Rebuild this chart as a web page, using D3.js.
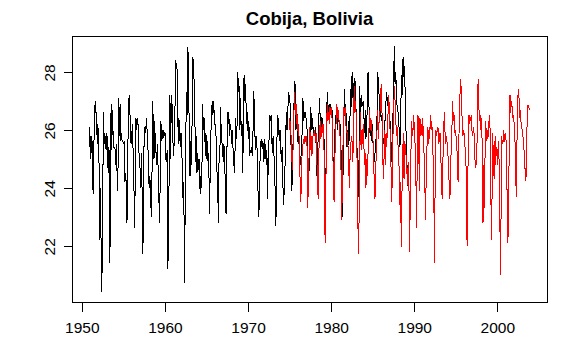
<!DOCTYPE html>
<html>
<head>
<meta charset="utf-8">
<script src="https://cdn.jsdelivr.net/npm/d3@7"></script>
<style>
  html, body { margin: 0; padding: 0; background: #fff; }
  svg text { font-family: "Liberation Sans", Arial, Helvetica, sans-serif; }
</style>
</head>
<body>
<svg id="chart" width="565" height="356"></svg>
<script>
// ---- data (monthly mean temperature) ----
const title = "Cobija, Bolivia";
const blackStartYear = 1951;   // first month: Jan 1951
const redStartYear = 1975;     // first month: Jan 1975

const blackSeries = [
  26.1, 25.0, 25.8, 25.2, 25.6, 23.8, 25.3, 26.2, 27.0, 26.6, 26.6, 25.5, // 1951
  26.2, 25.4, 24.5, 22.2, 24.0, 20.4, 21.1, 23.7, 26.6, 25.5, 25.9, 25.4, // 1952
  25.3, 25.9, 25.0, 24.5, 25.4, 21.4, 22.5, 26.9, 25.3, 26.7, 25.8, 25.4, // 1953
  25.4, 25.3, 24.8, 25.5, 23.9, 24.6, 27.1, 25.8, 26.9, 25.6, 25.9, 25.6, // 1954
  25.6, 25.5, 25.6, 24.2, 24.5, 24.1, 22.8, 25.3, 26.1, 27.2, 27.0, 25.7, // 1955
  25.5, 25.9, 26.2, 25.0, 24.1, 22.6, 24.5, 26.4, 26.0, 26.4, 26.2, 25.3, // 1956
  25.0, 24.6, 24.0, 25.2, 23.5, 21.7, 24.8, 25.9, 26.1, 25.9, 26.4, 26.0, // 1957
  25.7, 24.6, 24.0, 24.4, 23.9, 23.0, 24.2, 27.0, 26.2, 25.0, 26.3, 25.4, // 1958
  25.2, 24.8, 25.5, 24.6, 23.7, 22.8, 24.3, 26.3, 25.6, 26.0, 25.7, 26.0, // 1959
  25.8, 25.9, 25.0, 24.9, 25.3, 21.2, 22.4, 24.9, 27.2, 25.0, 27.2, 26.9, // 1960
  25.9, 25.1, 25.5, 26.0, 28.4, 28.1, 28.3, 27.3, 25.5, 26.4, 25.9, 25.4, // 1961
  25.9, 25.4, 24.6, 23.5, 24.2, 20.7, 23.3, 26.0, 27.3, 26.5, 28.85, 27.0, // 1962
  26.2, 24.4, 25.6, 24.8, 26.3, 28.5, 28.3, 27.6, 26.4, 24.9, 25.8, 24.5, // 1963
  25.2, 24.6, 25.0, 24.1, 23.8, 24.5, 24.0, 26.9, 26.3, 26.0, 26.4, 25.1, // 1964
  25.9, 25.0, 25.6, 24.9, 25.2, 23.1, 24.3, 25.8, 26.4, 27.0, 26.5, 27.0, // 1965
  26.5, 26.2, 26.0, 25.6, 24.5, 24.0, 22.8, 25.2, 24.9, 26.8, 26.0, 25.6, // 1966
  25.4, 24.9, 25.5, 24.8, 24.2, 23.1, 24.6, 26.6, 26.2, 26.6, 25.8, 26.2, // 1967
  26.1, 25.5, 26.0, 25.4, 25.0, 24.5, 25.3, 26.4, 25.7, 26.2, 28.0, 27.3, // 1968
  27.5, 26.0, 27.1, 25.8, 26.3, 24.5, 25.9, 27.9, 27.0, 27.6, 26.8, 26.2, // 1969
  26.6, 25.7, 26.3, 25.1, 25.3, 25.2, 25.4, 25.1, 26.0, 27.35, 26.6, 25.6, // 1970
  25.3, 25.8, 25.2, 24.1, 23.0, 23.4, 24.9, 25.5, 25.7, 25.4, 25.6, 24.9, // 1971
  25.7, 25.0, 25.5, 24.8, 25.3, 23.6, 25.0, 25.6, 26.5, 26.3, 26.5, 25.7, // 1972
  25.2, 25.8, 25.4, 24.2, 24.0, 22.7, 24.6, 26.5, 25.8, 26.4, 25.6, 26.0, // 1973
  25.3, 24.9, 25.4, 24.2, 23.4, 23.9, 24.6, 25.5, 26.6, 26.0, 26.4, 27.3, // 1974
  27.0, 27.2, 26.5, 25.2, 23.9, 24.7, 25.9, 26.8, 27.7, 27.5, 26.0, 26.6, // 1975
  26.5, 25.5, 26.2, 25.0, 24.8, 25.0, 25.4, 26.0, 27.1, 26.3, 26.6, 26.4, // 1976
  26.6, 26.2, 26.0, 25.0, 23.7, 24.8, 25.6, 26.8, 26.5, 26.0, 26.4, 25.9, // 1977
  26.0, 25.9, 26.1, 25.5, 24.4, 24.8, 25.8, 26.4, 27.1, 26.3, 26.5, 25.9, // 1978
  26.4, 25.9, 26.2, 25.1, 23.7, 24.2, 25.7, 27.3, 27.0, 26.4, 26.8, 26.9, // 1979
  26.8, 26.5, 26.7, 25.6, 24.4, 25.0, 25.8, 26.5, 26.2, 26.6, 26.0, 26.4, // 1980
  26.3, 26.0, 26.2, 25.3, 24.2, 23.0, 24.6, 26.5, 27.4, 26.2, 26.9, 25.4, // 1981
  26.0, 25.4, 26.3, 25.6, 26.5, 27.4, 26.8, 28.0, 27.1, 27.6, 27.0, 27.8, // 1982
  27.3, 26.4, 25.5, 24.2, 23.7, 25.0, 27.5, 26.5, 27.2, 26.8, 26.9, 27.0, // 1983
  26.5, 25.9, 26.7, 25.7, 26.4, 26.6, 28.0, 27.0, 26.5, 25.8, 26.3, 25.6, // 1984
  26.2, 25.6, 25.3, 24.9, 25.2, 25.4, 25.9, 26.5, 28.0, 27.6, 27.2, 26.6, // 1985
  26.9, 26.3, 26.5, 25.9, 25.6, 25.5, 26.0, 26.6, 27.0, 27.3, 26.9, 26.8, // 1986
  26.9, 26.7, 26.2, 25.2, 24.9, 26.0, 26.5, 27.8, 28.9, 27.6, 28.0, 27.3, // 1987
  26.8, 26.7, 26.4, 26.0, 25.4, 25.8, 27.9, 27.1, 28.4, 28.5, 27.8, 28.2, // 1988
  26.4, 25.9, 25.1, 24.05                                                 // 1989
];

const redSeries = [
  26.4, 26.0, 26.3, 25.7, 25.0, 24.6, 25.6, 26.6, 27.3, 26.5, 26.9, 26.2, // 1975
  26.5, 25.9, 26.2, 25.1, 24.2, 23.5, 24.6, 25.3, 25.5, 25.7, 25.5, 25.8, // 1976
  25.6, 25.8, 25.4, 23.3, 24.4, 25.2, 26.1, 25.3, 25.8, 25.1, 25.6, 25.9, // 1977
  25.8, 26.0, 25.6, 25.9, 25.0, 24.4, 23.6, 25.2, 25.9, 26.3, 25.7, 26.1, // 1978
  25.9, 26.2, 25.8, 24.7, 22.1, 23.9, 25.5, 26.9, 26.3, 26.6, 26.2, 26.8, // 1979
  26.5, 26.8, 26.4, 25.4, 24.3, 23.5, 24.8, 25.9, 26.3, 26.9, 26.4, 26.7, // 1980
  26.4, 26.0, 25.6, 24.6, 22.9, 24.2, 25.6, 26.8, 26.5, 26.8, 26.2, 25.9, // 1981
  25.9, 25.5, 24.9, 24.0, 25.0, 25.4, 25.8, 25.6, 24.9, 25.8, 27.5, 26.6, // 1982
  27.0, 26.4, 25.2, 23.6, 21.7, 22.8, 24.8, 26.6, 25.3, 26.0, 25.5, 26.2, // 1983
  25.5, 24.8, 25.2, 24.0, 25.0, 24.4, 25.2, 25.6, 26.7, 26.0, 26.4, 26.2, // 1984
  25.9, 25.8, 25.0, 24.2, 23.6, 24.4, 25.4, 26.0, 26.7, 25.7, 26.3, 26.5, // 1985
  27.0, 27.6, 26.8, 25.6, 24.3, 24.9, 26.0, 24.8, 25.9, 25.4, 26.2, 26.6, // 1986
  27.2, 26.4, 25.9, 25.0, 23.5, 24.3, 25.8, 26.6, 27.5, 27.0, 26.4, 25.8, // 1987
  26.1, 25.6, 25.2, 24.6, 23.4, 24.2, 21.95, 23.8, 25.1, 25.9, 24.3, 25.6, // 1988
  25.4, 25.1, 24.6, 24.1, 24.9, 24.3, 21.8, 23.5, 25.3, 26.3, 25.8, 26.0, // 1989
  26.5, 25.9, 25.5, 24.6, 22.6, 24.8, 26.5, 26.3, 23.9, 26.4, 25.8, 26.2, // 1990
  25.8, 26.4, 25.7, 25.1, 24.2, 22.9, 24.4, 25.3, 26.1, 25.5, 26.0, 25.7, // 1991
  26.5, 26.0, 26.3, 25.8, 25.0, 23.8, 21.4, 24.5, 26.0, 25.8, 26.0, 26.1, // 1992
  25.5, 25.7, 25.9, 25.1, 24.4, 23.6, 24.9, 25.5, 26.6, 26.0, 25.5, 25.8, // 1993
  25.6, 25.2, 25.0, 24.2, 23.6, 24.0, 25.4, 25.9, 27.0, 26.3, 26.6, 25.9, // 1994
  26.0, 25.8, 25.6, 24.9, 24.2, 25.5, 26.5, 27.4, 27.75, 26.9, 26.3, 25.8, // 1995
  26.0, 25.8, 25.4, 25.1, 24.4, 22.0, 23.7, 26.5, 26.2, 26.5, 26.3, 26.5, // 1996
  26.0, 25.8, 26.1, 25.9, 25.2, 24.7, 25.0, 24.8, 26.9, 27.75, 26.8, 26.3, // 1997
  26.5, 26.0, 26.4, 25.2, 22.8, 24.8, 23.3, 25.2, 26.3, 25.6, 26.0, 25.7, // 1998
  25.9, 26.5, 26.2, 25.0, 22.2, 23.6, 25.9, 24.4, 25.6, 24.3, 25.8, 25.3, // 1999
  25.2, 24.8, 25.6, 25.1, 24.3, 21.0, 22.9, 25.8, 25.5, 25.6, 26.0, 25.6, // 2000
  25.7, 25.9, 24.8, 23.5, 22.1, 23.8, 25.5, 27.2, 26.6, 27.0, 26.8, 26.4, // 2001
  26.5, 26.2, 25.8, 24.8, 23.7, 25.5, 27.0, 27.4, 27.1, 26.4, 26.7, 26.2, // 2002
  26.1, 25.9, 25.7, 25.4, 25.0, 24.5, 24.25, 25.3, 26.8, 26.85, 26.8, 26.7 // 2003
];

const xTicks = [1950, 1960, 1970, 1980, 1990, 2000];
const yTicks = [22, 24, 26, 28];

// ---- build ----
const toPoints = (vals, start) => vals.map((v, i) => ({ t: start + i / 12, v }));
const blackPts = toPoints(blackSeries, blackStartYear);
const redPts = toPoints(redSeries, redStartYear);
const allPts = blackPts.concat(redPts);

// R-style 4% axis extension
function pad(ext) { const d = (ext[1] - ext[0]) * 0.04; return [ext[0] - d, ext[1] + d]; }

const plot = { left: 72, right: 547, top: 36, bottom: 302 };

const x = d3.scaleLinear().domain(pad(d3.extent(allPts, d => d.t))).range([plot.left, plot.right]);
const y = d3.scaleLinear().domain(pad(d3.extent(allPts, d => d.v))).range([plot.bottom, plot.top]);

const svg = d3.select("#chart");

const line = d3.line().x(d => x(d.t)).y(d => y(d.v));

svg.append("path").datum(blackPts)
  .attr("d", line).attr("fill", "none").attr("stroke", "#000").attr("stroke-width", 1)
  .attr("shape-rendering", "crispEdges");
svg.append("path").datum(redPts)
  .attr("d", line).attr("fill", "none").attr("stroke", "#ff0000").attr("stroke-width", 1)
  .attr("shape-rendering", "crispEdges");

// box
svg.append("rect")
  .attr("x", plot.left + 0.5).attr("y", plot.top + 0.5)
  .attr("width", plot.right - plot.left).attr("height", plot.bottom - plot.top)
  .attr("fill", "none").attr("stroke", "#000").attr("stroke-width", 1)
  .attr("shape-rendering", "crispEdges");

// x axis
const xAxis = d3.axisBottom(x).tickValues(xTicks).tickFormat(d3.format("d")).tickSize(9).tickPadding(10);
const gx = svg.append("g").attr("transform", `translate(0.5,${plot.bottom + 0.5})`).call(xAxis);
gx.select(".domain").attr("d", `M${x(xTicks[0])},0H${x(xTicks[xTicks.length - 1])}`);
gx.selectAll("line, path").attr("stroke", "#000").attr("shape-rendering", "crispEdges");
gx.selectAll("text").attr("font-size", "15.5px").attr("fill", "#000")
  .attr("font-family", "Liberation Sans, Arial, sans-serif").attr("dy", "0.71em");

// y axis
const yAxis = d3.axisLeft(y).tickValues(yTicks).tickFormat(d3.format("d")).tickSize(9).tickPadding(0);
const gy = svg.append("g").attr("transform", `translate(${plot.left + 0.5},0.5)`).call(yAxis);
gy.select(".domain").attr("d", `M0,${y(yTicks[0])}V${y(yTicks[yTicks.length - 1])}`);
gy.selectAll("line, path").attr("stroke", "#000").attr("shape-rendering", "crispEdges");
gy.selectAll(".tick text")
  .attr("font-size", "15.5px").attr("fill", "#000")
  .attr("font-family", "Liberation Sans, Arial, sans-serif")
  .attr("x", null).attr("dy", null)
  .attr("text-anchor", "middle")
  .attr("transform", "translate(-18,0) rotate(-90)");

// title
svg.append("text")
  .attr("x", (plot.left + plot.right) / 2).attr("y", 25)
  .attr("text-anchor", "middle")
  .attr("font-size", "18.5px").attr("font-weight", "bold")
  .attr("font-family", "Liberation Sans, Arial, sans-serif")
  .text(title);
</script>
</body>
</html>
